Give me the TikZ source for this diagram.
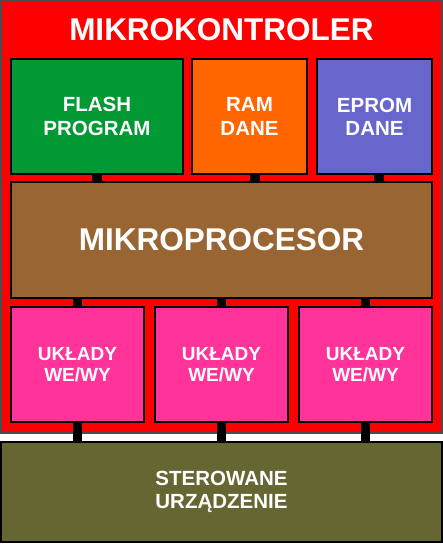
\documentclass[tikz,border=0pt]{standalone}
\usepackage{fontspec}
\setmainfont{Liberation Sans}
\definecolor{cred}{HTML}{FF0000}
\definecolor{cgreen}{HTML}{009933}
\definecolor{corange}{HTML}{FF6600}
\definecolor{cblue}{HTML}{6666CC}
\definecolor{cbrown}{HTML}{996633}
\definecolor{cpink}{HTML}{FF3399}
\definecolor{colive}{HTML}{666633}
\begin{document}
\begin{tikzpicture}[x=1pt,y=-1pt,
  box/.style={draw=black,line width=1.2pt,inner sep=0pt,outer sep=0pt,anchor=north west,
    text=white,align=center,font=\bfseries\fontsize{19}{21.5}\selectfont},
  memtext/.style={font=\bfseries\fontsize{20.5}{23.3}\selectfont},
  bigtext/.style={font=\bfseries\fontsize{31.5}{34}\selectfont},
  bus/.style={draw=black,line width=9.5pt}]
\useasboundingbox (0,0) rectangle (443,544);
\node[box,fill=cred,draw=black!70,minimum width=441,minimum height=432] (mk) at (1,1) {};
\node[text=white,bigtext] (title) at (221.5,30) {MIKROKONTROLER};
\node[box,fill=cgreen,minimum width=172,minimum height=115,memtext] (flash) at (11,59) {FLASH\\PROGRAM};
\node[box,fill=corange,minimum width=115,minimum height=115,memtext] (ram) at (192,59) {RAM\\DANE};
\node[box,fill=cblue,minimum width=115,minimum height=115,memtext] (eprom) at (317,59) {EPROM\\DANE};
\node[box,fill=cbrown,minimum width=421,minimum height=116,bigtext] (mp) at (11,182) {MIKROPROCESOR};
\node[box,fill=cpink,minimum width=133,minimum height=115] (io1) at (11,307) {UKŁADY\\WE/WY};
\node[box,fill=cpink,minimum width=133,minimum height=115] (io2) at (155,307) {UKŁADY\\WE/WY};
\node[box,fill=cpink,minimum width=133,minimum height=115] (io3) at (299,307) {UKŁADY\\WE/WY};
\node[box,fill=colive,minimum width=441,minimum height=100,font=\bfseries\fontsize{20.5}{22.5}\selectfont] (dev) at (1,442) {STEROWANE\\URZĄDZENIE};
% buses
\draw[bus] (flash.south) -- (flash.south |- mp.north);
\draw[bus] ([xshift=5.5pt]ram.south) -- ([xshift=5.5pt]ram.south |- mp.north);
\draw[bus] ([xshift=4.5pt]eprom.south) -- ([xshift=4.5pt]eprom.south |- mp.north);
\draw[bus] (io1.north) -- (io1.north |- mp.south);
\draw[bus] (io2.north) -- (io2.north |- mp.south);
\draw[bus] (io3.north) -- (io3.north |- mp.south);
\draw[bus] (io1.south) -- (io1.south |- dev.north);
\draw[bus] (io2.south) -- (io2.south |- dev.north);
\draw[bus] (io3.south) -- (io3.south |- dev.north);
\end{tikzpicture}
\end{document}
